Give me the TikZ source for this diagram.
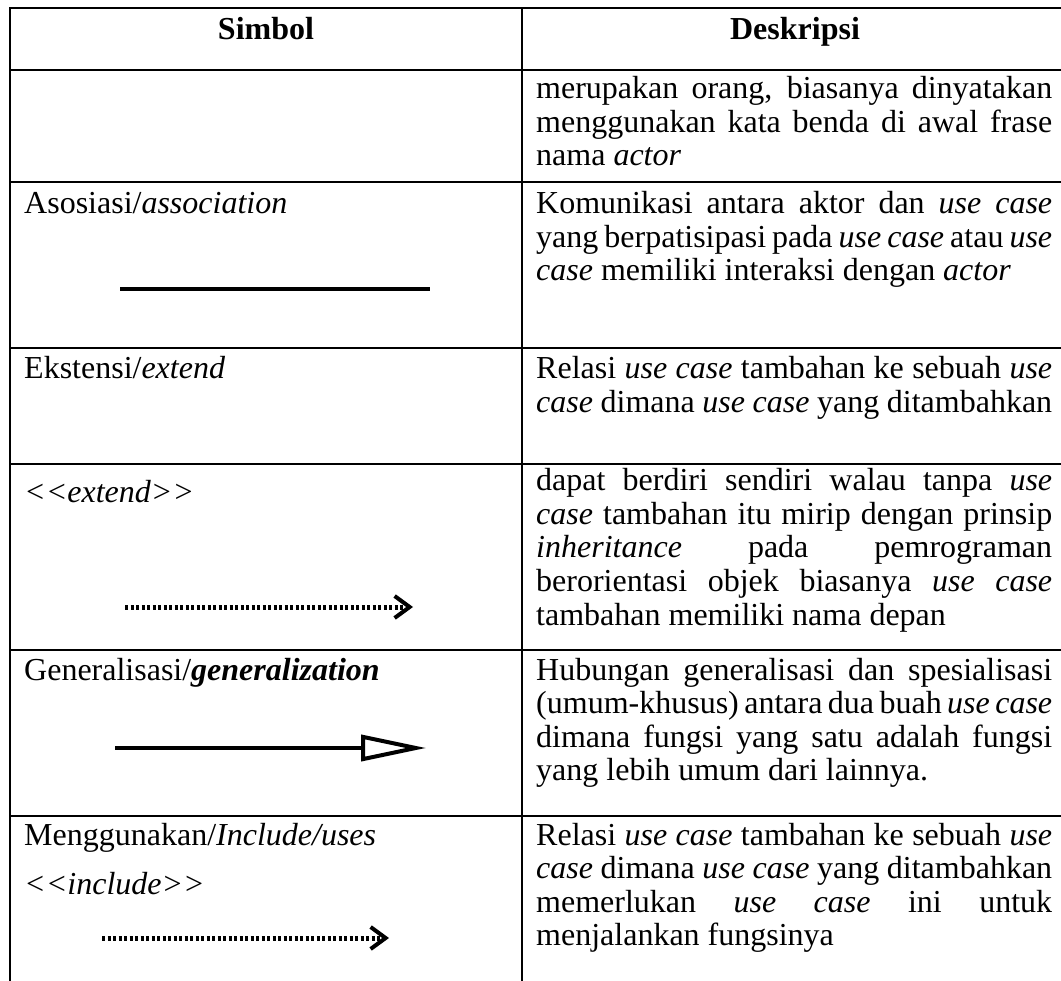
\documentclass[tikz,border=0pt]{standalone}
\usepackage{fontspec}
\setmainfont{Liberation Serif}
\usetikzlibrary{arrows.meta}
\newcommand\jline[1]{\makebox[516pt][s]{#1}}
\begin{document}
\begin{tikzpicture}[x=1pt,y=-1pt,
  every node/.style={font=\fontsize{32}{33.5}\selectfont, inner sep=0pt},
  grid/.style={line width=2.5pt, line cap=rect},
  dl/.style={anchor=base west},
  hd/.style={anchor=base, font=\fontsize{32}{33.5}\selectfont\bfseries},
  solidline/.style={line width=4pt},
  dotline/.style={line width=5pt, dash pattern=on 3pt off 2.5pt},
  chev/.style={-{Straight Barb[length=15pt,width=22pt,line width=4pt]}},
  gen/.style={-{Triangle[open,length=65pt,width=26pt,line width=4pt]}}
]
\useasboundingbox (0,0) rectangle (1061,981);
% table grid
\draw[grid] (10,8) -- (1061,8);
\draw[grid] (10,70) -- (1061,70);
\draw[grid] (10,182) -- (1061,182);
\draw[grid] (10,348) -- (1061,348);
\draw[grid] (10,464) -- (1061,464);
\draw[grid] (10,650) -- (1061,650);
\draw[grid] (10,816) -- (1061,816);
\draw[grid] (10,8) -- (10,985);
\draw[grid] (522,8) -- (522,985);
% header
\node[hd] (hs) at (266,40) {Simbol};
\node[hd] (hd) at (795,40) {Deskripsi};
% row 1
\node[dl] (r1a) at (536,99) {\jline{merupakan orang, biasanya dinyatakan}};
\node[dl] (r1b) at (536,132.5) {\jline{menggunakan kata benda di awal frase}};
\node[dl] (r1c) at (536,166) {nama \textit{actor}};
% row 2
\node[dl] (l2) at (24,214) {Asosiasi/\textit{association}};
\node[dl] (r2a) at (536,214) {\jline{Komunikasi antara aktor dan \textit{use case}}};
\node[dl] (r2b) at (536,247.5) {\jline{yang berpatisipasi pada \textit{use case} atau \textit{use}}};
\node[dl] (r2c) at (536,281) {\textit{case} memiliki interaksi dengan \textit{actor}};
\coordinate (a1) at (120,289);
\coordinate (a2) at (430,289);
\draw[solidline] (a1) -- (a2);
% row 3
\node[dl] (l3) at (24,379) {Ekstensi/\textit{extend}};
\node[dl] (r3a) at (536,379) {\jline{Relasi \textit{use case} tambahan ke sebuah \textit{use}}};
\node[dl] (r3b) at (536,412.5) {\jline{\textit{case} dimana \textit{use case} yang ditambahkan}};
% row 4
\node[dl] (l4) at (24,503) {\textit{<{}<extend>{}>}};
\node[dl] (r4a) at (536,491) {\jline{dapat berdiri sendiri walau tanpa \textit{use}}};
\node[dl] (r4b) at (536,524.5) {\jline{\textit{case} tambahan itu mirip dengan prinsip}};
\node[dl] (r4c) at (536,558) {\jline{\textit{inheritance} pada pemrograman}};
\node[dl] (r4d) at (536,591.5) {\jline{berorientasi objek biasanya \textit{use case}}};
\node[dl] (r4e) at (536,625) {tambahan memiliki nama depan};
\coordinate (e1) at (125,607);
\coordinate (e2) at (413,607);
\draw[dotline, chev] (e1) -- (e2);
% row 5
\node[dl] (l5) at (24,680) {Generalisasi/\textbf{\textit{generalization}}};
\node[dl] (r5a) at (536,680) {\jline{Hubungan generalisasi dan spesialisasi}};
\node[dl] (r5b) at (536,713.5) {\jline{(umum-khusus) antara dua buah \textit{use case}}};
\node[dl] (r5c) at (536,747) {\jline{dimana fungsi yang satu adalah fungsi}};
\node[dl] (r5d) at (536,780.5) {yang lebih umum dari lainnya.};
\coordinate (g1) at (115,748);
\coordinate (g2) at (426,748);
\draw[solidline, gen] (g1) -- (g2);
% row 6
\node[dl] (l6a) at (24,845) {Menggunakan/\textit{Include/uses}};
\node[dl] (l6b) at (24,894) {\textit{<{}<include>{}>}};
\node[dl] (r6a) at (536,845) {\jline{Relasi \textit{use case} tambahan ke sebuah \textit{use}}};
\node[dl] (r6b) at (536,878.5) {\jline{\textit{case} dimana \textit{use case} yang ditambahkan}};
\node[dl] (r6c) at (536,912) {\jline{memerlukan \textit{use case} ini untuk}};
\node[dl] (r6d) at (536,945.5) {menjalankan fungsinya};
\coordinate (i1) at (102,938);
\coordinate (i2) at (389,938);
\draw[dotline, chev] (i1) -- (i2);
\end{tikzpicture}
\end{document}
